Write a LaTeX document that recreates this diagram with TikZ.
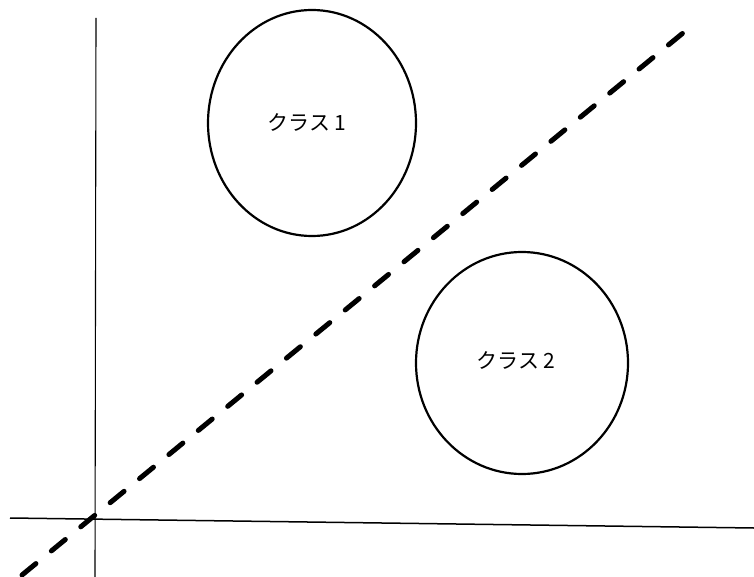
\documentclass[tikz,border=0pt]{standalone}
\usepackage{fontspec}
\newfontfamily\jpfont[BoldFont={* Bold}]{Noto Sans CJK JP}
\begin{document}
\begin{tikzpicture}[x=1pt,y=-1pt,
  axis/.style={line width=1.5pt,black},
  cls/.style={line width=2.2pt},
  lbl/.style={font=\jpfont\fontsize{21}{24}\selectfont}]
\useasboundingbox (0,0) rectangle (754,577);
\coordinate (ytop) at (96,18);
\coordinate (ybot) at (95,577);
\coordinate (xl) at (10,518);
\coordinate (xr) at (754,528);
\draw[line width=1.1pt] (ytop) -- (ybot);
\draw[axis] (xl) -- (xr);
\coordinate (d1) at (22,575);
\coordinate (d2) at (683,33);
\draw[line width=5pt,line cap=round,dash pattern=on 18pt off 20pt] (d1) -- (d2);
\draw[cls] (312,123) ellipse [x radius=104, y radius=113];
\draw[cls] (522,363) ellipse [x radius=106, y radius=111];
\node[lbl] (c1) at (307,122) {クラス 1};
\node[lbl] (c2) at (516,360) {クラス 2};
\end{tikzpicture}
\end{document}
